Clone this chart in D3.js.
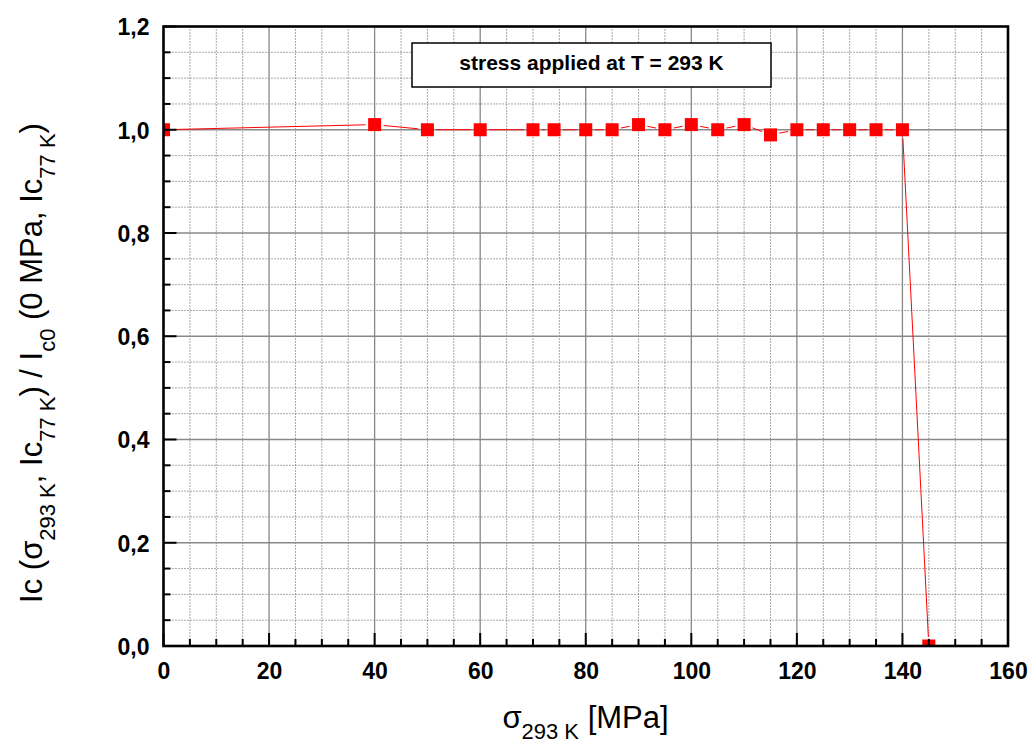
<!DOCTYPE html>
<html><head><meta charset="utf-8">
<script src="https://cdn.jsdelivr.net/npm/d3@7"></script>
<style>
body{margin:0;background:#fff;}
text{font-family:"Liberation Sans",Arial,sans-serif;}
</style></head>
<body><svg id="c" width="1032" height="746"></svg>
<script>
const stress = [0,40,50,60,70,74,80,85,90,95,100,105,110,115,120,125,130,135,140,145];
const icRatio = [1.0,1.01,1.0,1.0,1.0,1.0,1.0,1.0,1.01,1.0,1.01,1.0,1.01,0.99,1.0,1.0,1.0,1.0,1.0,0.0];
const xTicks = [0,20,40,60,80,100,120,140,160];
const yTicks = [0,0.2,0.4,0.6,0.8,1.0,1.2];
const legendText = "stress applied at T = 293 K";

const svg = d3.select("#c");
const L=163.5, R=1008, T=26.5, B=646;
const x = d3.scaleLinear().domain([0,160]).range([L,R]);
const y = d3.scaleLinear().domain([0,1.2]).range([B,T]);
const fmt = d => d3.format(".1f")(d).replace(".",",");

// minor grid
const xMinor = d3.range(0,160.01,5).filter(v=>v%20!==0);
const yMinor = d3.range(0,1.2001,0.05).map(v=>+v.toFixed(2)).filter(v=>Math.abs(v/0.2-Math.round(v/0.2))>1e-6);
const g = svg.append("g");
g.selectAll(".vm").data(xMinor).join("line").attr("x1",d=>x(d)).attr("x2",d=>x(d)).attr("y1",T).attr("y2",B)
 .attr("stroke","#555").attr("stroke-width",1).attr("stroke-dasharray","1,2");
g.selectAll(".hm").data(yMinor).join("line").attr("y1",d=>y(d)).attr("y2",d=>y(d)).attr("x1",L).attr("x2",R)
 .attr("stroke","#555").attr("stroke-width",1).attr("stroke-dasharray","1,2");
// major grid
g.selectAll(".vM").data(xTicks.slice(1,-1)).join("line").attr("x1",d=>x(d)).attr("x2",d=>x(d)).attr("y1",T).attr("y2",B)
 .attr("stroke","#888").attr("stroke-width",1.3);
g.selectAll(".hM").data(yTicks.slice(1,-1)).join("line").attr("y1",d=>y(d)).attr("y2",d=>y(d)).attr("x1",L).attr("x2",R)
 .attr("stroke","#888").attr("stroke-width",1.3);

// legend box
svg.append("rect").attr("x",412).attr("y",43).attr("width",359).attr("height",44)
 .attr("fill","#fff").attr("stroke","#000").attr("stroke-width",1.5);
svg.append("text").attr("x",591.5).attr("y",70).attr("text-anchor","middle")
 .attr("font-size",21).attr("font-weight","bold").text(legendText);

// data
svg.append("clipPath").attr("id","clip").append("rect").attr("x",L).attr("y",T).attr("width",R-L).attr("height",B-T);
const pts = stress.map((s,i)=>[x(s),y(icRatio[i])]);
const segs = [];
for(let i=0;i<pts.length-1;i++){
  const [x1,y1]=pts[i],[x2,y2]=pts[i+1];
  const dx=x2-x1, dy=y2-y1, len=Math.hypot(dx,dy);
  const gap = 9;
  if(len>2*gap) segs.push([x1+dx/len*gap,y1+dy/len*gap,x2-dx/len*gap,y2-dy/len*gap]);
}
const dg = svg.append("g").attr("clip-path","url(#clip)");
dg.selectAll(".seg").data(segs).join("line").attr("x1",d=>d[0]).attr("y1",d=>d[1]).attr("x2",d=>d[2]).attr("y2",d=>d[3])
 .attr("stroke","#ff0000").attr("stroke-width",1);
const ms=13;
dg.selectAll(".m").data(pts).join("rect").attr("x",d=>d[0]-ms/2).attr("y",d=>d[1]-ms/2).attr("width",ms).attr("height",ms)
 .attr("fill","#ff0000");

// axes
const ax = svg.append("g");
const bottom = ax.append("g").attr("transform",`translate(0,${B})`)
 .call(d3.axisBottom(x).tickValues(xTicks).tickSize(0).tickPadding(0).tickFormat(d3.format("d")));
bottom.select(".domain").remove();
bottom.selectAll("text").attr("y",33).attr("dy",0).attr("font-size",23).attr("font-weight","bold")
 .attr("font-family","Liberation Sans, Arial, sans-serif").attr("fill","#000");
const left = ax.append("g").attr("transform",`translate(${L},0)`)
 .call(d3.axisLeft(y).tickValues(yTicks).tickSize(0).tickPadding(0).tickFormat(fmt));
left.select(".domain").remove();
left.selectAll("text").attr("x",-14).attr("dy","0.36em").attr("font-size",23).attr("font-weight","bold")
 .attr("font-family","Liberation Sans, Arial, sans-serif").attr("fill","#000");

// inward ticks
const xMinorAll = d3.range(0,160.01,5);
ax.selectAll(".xt").data(xMinorAll).join("line").attr("x1",d=>x(d)).attr("x2",d=>x(d))
 .attr("y1",B).attr("y2",d=>B-(d%20===0?13:7)).attr("stroke","#000").attr("stroke-width",2);
const yAll = d3.range(0,1.2001,0.05).map(v=>+v.toFixed(2));
ax.selectAll(".yt").data(yAll).join("line").attr("y1",d=>y(d)).attr("y2",d=>y(d))
 .attr("x1",L).attr("x2",d=>L+(Math.abs(d/0.2-Math.round(d/0.2))<1e-6?13:7)).attr("stroke","#000").attr("stroke-width",2);

// frame
ax.append("rect").attr("x",L).attr("y",T).attr("width",R-L).attr("height",B-T)
 .attr("fill","none").attr("stroke","#000").attr("stroke-width",2.6);

// axis titles
const xt = svg.append("text").attr("x",585.5).attr("y",728).attr("text-anchor","middle").attr("font-size",31);
xt.append("tspan").text("σ");
xt.append("tspan").attr("font-size",22).attr("dy",11).text("293 K");
xt.append("tspan").attr("dy",-11).text(" [MPa]");

const yt = svg.append("text").attr("transform","translate(42,363) rotate(-90)").attr("text-anchor","middle").attr("font-size",31);
const parts = [["Ic (σ",0],["293 K",1],[", Ic",0],["77 K",1],[") / I",0],["c0",1],[" (0 MPa, Ic",0],["77 K",1],[")",0]];
let cur=0;
parts.forEach(([t,sub])=>{
  const want = sub?13:0;
  yt.append("tspan").attr("dy",want-cur).attr("font-size",sub?22:31).text(t);
  cur=want;
});
</script></body></html>
